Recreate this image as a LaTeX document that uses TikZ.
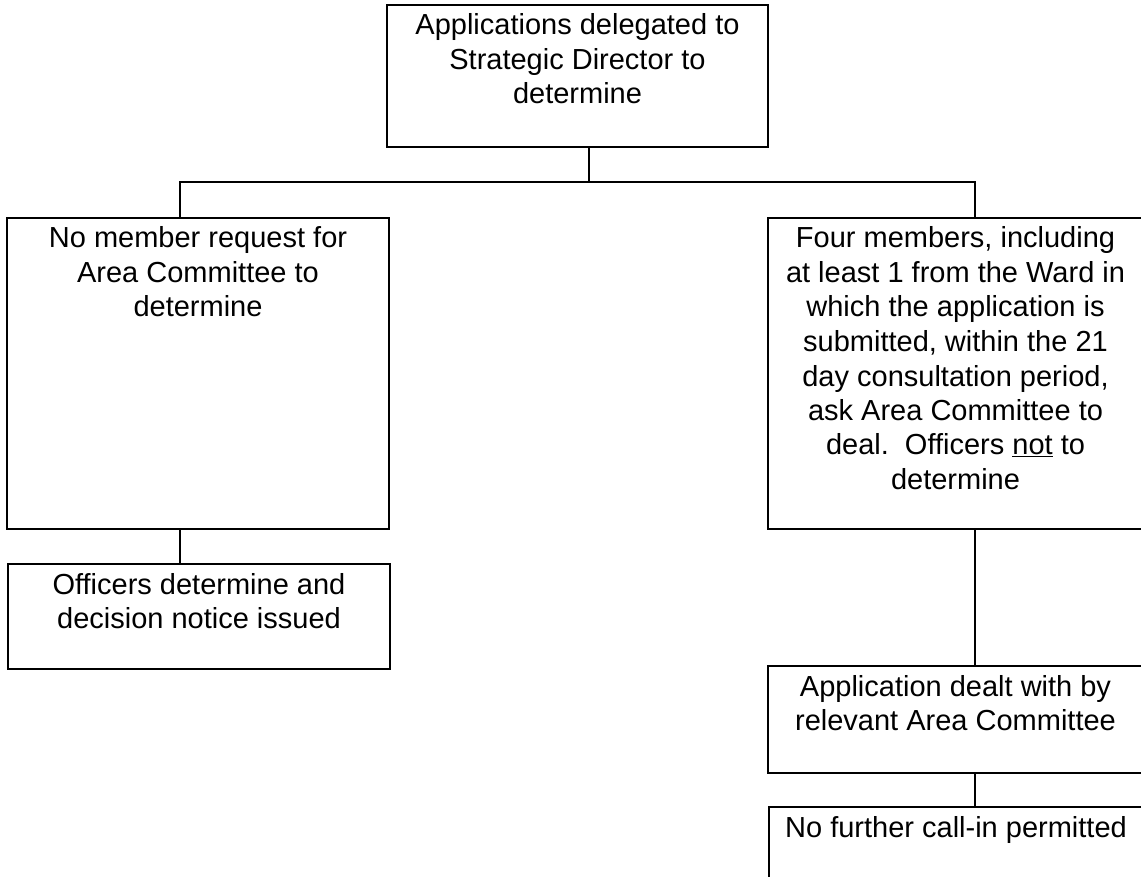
\documentclass[tikz,border=0pt]{standalone}
\usepackage{fontspec}
\setmainfont{Liberation Sans}
\newcommand\bxt[3]{\parbox[c][#2][t]{#1}{\centering\rule{0pt}{30pt}#3}}
\begin{document}
\begin{tikzpicture}[x=1pt,y=-1pt,
  stepbox/.style={draw=black,line width=1.6pt,rectangle,inner sep=0pt,outer sep=0pt,anchor=north west,
    font=\fontsize{29}{34.5}\selectfont},
  conn/.style={draw=black,line width=1.6pt}]
\useasboundingbox (0,0) rectangle (1141,877);
\clip (0,0) rectangle (1141,877);
\node[stepbox] (top) at (387,5) {\bxt{381pt}{142pt}{Applications delegated to\\Strategic Director to\\determine}};
\node[stepbox] (left1) at (7,218) {\bxt{382pt}{311pt}{No member request for\\Area Committee to\\determine}};
\node[stepbox] (right1) at (768,218) {\bxt{375pt}{311pt}{Four members, including\\at least 1 from the Ward in\\which the application is\\submitted, within the 21\\day consultation period,\\ask Area Committee to\\deal.\ \ Officers \underline{not} to\\determine}};
\node[stepbox] (left2) at (8,564) {\bxt{382pt}{105pt}{Officers determine and\\decision notice issued}};
\node[stepbox] (right2) at (768,666) {\bxt{375pt}{107pt}{Application dealt with by\\relevant Area Committee}};
\node[stepbox] (right3) at (769,807) {\bxt{374pt}{70.5pt}{No further call-in permitted}};
\coordinate (tc) at (589,182);
\coordinate (barL) at (180,182);
\coordinate (barR) at (975,182);
\draw[conn] (tc |- top.south) -- (tc);
\draw[conn] (barL |- left1.north) -- (barL) -- (barR) -- (barR |- right1.north);
\draw[conn] (barL |- left1.south) -- (barL |- left2.north);
\draw[conn] (barR |- right1.south) -- (barR |- right2.north);
\draw[conn] (barR |- right2.south) -- (barR |- right3.north);
\end{tikzpicture}
\end{document}
